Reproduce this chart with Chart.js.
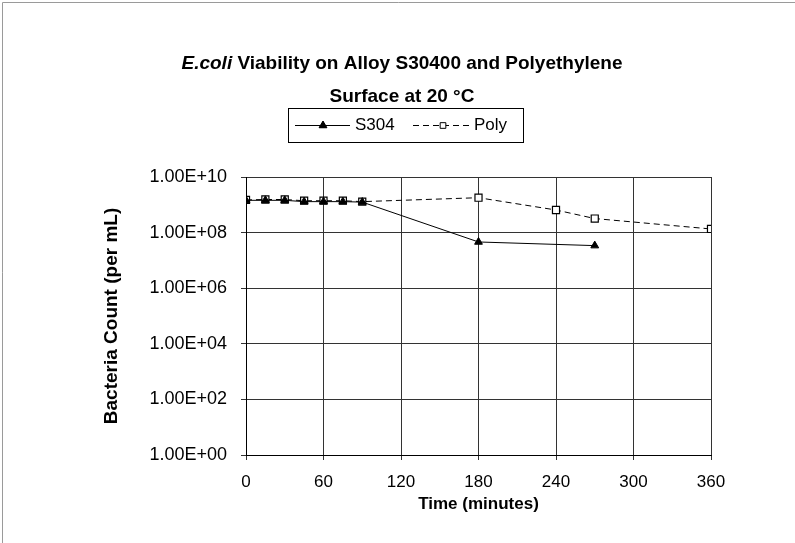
<!DOCTYPE html>
<html><head><meta charset="utf-8">
<script src="https://cdn.jsdelivr.net/npm/chart.js@4"></script>
<style>html,body{margin:0;padding:0;background:#fff}#wrap{width:795px;height:543px;position:relative}</style>
</head><body><div id="wrap"><canvas id="c" width="795" height="543"></canvas></div>
<script>
const titleItalic = 'E.coli';
const titleRest = ' Viability on Alloy S30400 and Polyethylene';
const titleLine2 = 'Surface at 20 \u00B0C';
const seriesNames = ['S304', 'Poly'];
const timesS304 = [0, 15, 30, 45, 60, 75, 90, 180, 270];
const valuesS304 = [1.45e9, 1.45e9, 1.45e9, 1.3e9, 1.3e9, 1.3e9, 1.25e9, 4.6e7, 3.4e7];
const timesPoly = [0, 15, 30, 45, 60, 75, 90, 180, 240, 270, 360];
const valuesPoly = [1.5e9, 1.55e9, 1.55e9, 1.4e9, 1.4e9, 1.4e9, 1.3e9, 1.8e9, 6.5e8, 3.2e8, 1.35e8];
const xTickValues = [0, 60, 120, 180, 240, 300, 360];
const yTickValues = [1, 1e2, 1e4, 1e6, 1e8, 1e10];
const yTickLabels = ['1.00E+00', '1.00E+02', '1.00E+04', '1.00E+06', '1.00E+08', '1.00E+10'];
const xTitle = 'Time (minutes)';
const yTitle = 'Bacteria Count (per mL)';

const toPts = (xs, ys) => xs.map((x, i) => ({x: x, y: ys[i]}));

const decor = {
  id: 'decor',
  afterDraw(chart) {
    const ctx = chart.ctx;
    ctx.save();
    // outer border (left and top)
    ctx.strokeStyle = '#9a9a9a';
    ctx.lineWidth = 1;
    ctx.beginPath();
    ctx.moveTo(2.5, 543); ctx.lineTo(2.5, 2.5); ctx.lineTo(795, 2.5);
    ctx.stroke();
    // title
    ctx.fillStyle = '#000';
    ctx.textBaseline = 'middle';
    const fI = 'italic bold 19px "Liberation Sans", Arial, sans-serif';
    const fB = 'bold 19px "Liberation Sans", Arial, sans-serif';
    ctx.font = fI; const wI = ctx.measureText(titleItalic).width;
    ctx.font = fB; const wR = ctx.measureText(titleRest).width;
    const cx = 402;
    let x0 = cx - (wI + wR) / 2;
    ctx.textAlign = 'left';
    ctx.font = fI; ctx.fillText(titleItalic, x0, 64);
    ctx.font = fB; ctx.fillText(titleRest, x0 + wI, 64);
    ctx.textAlign = 'center';
    ctx.fillText(titleLine2, cx, 97);
    // legend
    const ly = 125.5;
    ctx.strokeStyle = '#000';
    ctx.lineWidth = 1;
    ctx.strokeRect(288.5, 108.5, 235, 34);
    const ds = chart.data.datasets;
    // S304 sample
    ctx.setLineDash([]);
    ctx.beginPath(); ctx.moveTo(295, ly); ctx.lineTo(350, ly); ctx.stroke();
    Chart.helpers.drawPoint(ctx, {pointStyle: ds[0].pointStyle, radius: ds[0].pointRadius, borderWidth: 1, rotation: 0}, 323, ly);
    ctx.fillStyle = '#000'; ctx.fill();
    // Poly sample
    ctx.setLineDash([6, 4]);
    ctx.beginPath(); ctx.moveTo(413, ly); ctx.lineTo(471, ly); ctx.stroke();
    ctx.setLineDash([]);
    ctx.fillStyle = '#fff';
    Chart.helpers.drawPoint(ctx, {pointStyle: ds[1].pointStyle, radius: 4, borderWidth: 1, rotation: 0}, 443, ly);
    ctx.fillStyle = '#000';
    ctx.font = '17px "Liberation Sans", Arial, sans-serif';
    ctx.textAlign = 'left';
    ctx.fillText(seriesNames[0], 355, ly);
    ctx.fillText(seriesNames[1], 474, ly);
    ctx.restore();
  }
};

new Chart(document.getElementById('c'), {
  type: 'line',
  data: {
    datasets: [
      {
        label: seriesNames[0],
        data: toPts(timesS304, valuesS304),
        borderColor: '#000', backgroundColor: '#000',
        borderWidth: 1, pointStyle: 'triangle', pointRadius: 4.5,
        pointBackgroundColor: '#000', pointBorderColor: '#000', tension: 0
      },
      {
        label: seriesNames[1],
        data: toPts(timesPoly, valuesPoly),
        borderColor: '#000', backgroundColor: '#fff',
        borderWidth: 1, borderDash: [6, 4], pointStyle: 'rect', pointRadius: 5,
        pointBackgroundColor: '#fff', pointBorderColor: '#000', pointBorderWidth: 1.2, tension: 0
      }
    ]
  },
  options: {
    responsive: false, devicePixelRatio: 1, animation: false,
    layout: {padding: {top: 177, right: 84, left: 0, bottom: 0}},
    plugins: {legend: {display: false}, title: {display: false}, tooltip: {enabled: false}},
    scales: {
      x: {
        type: 'linear', min: 0, max: 360,
        afterBuildTicks: s => { s.ticks = xTickValues.map(v => ({value: v})); },
        afterFit: s => { s.height = 88; },
        grid: {color: '#333', lineWidth: 1, tickLength: 5, drawTicks: true},
        border: {color: '#000'},
        ticks: {color: '#000', padding: 12, font: {family: '"Liberation Sans", Arial, sans-serif', size: 17}, maxRotation: 0},
        title: {display: true, text: xTitle, color: '#000', padding: {top: 0, bottom: 28},
          font: {family: '"Liberation Sans", Arial, sans-serif', size: 17, weight: 'bold'}}
      },
      y: {
        type: 'logarithmic', min: 1, max: 1e10,
        afterBuildTicks: s => { s.ticks = yTickValues.map(v => ({value: v})); },
        afterFit: s => { s.width = 246; },
        grid: {color: '#333', lineWidth: 1, tickLength: 5, drawTicks: true},
        border: {color: '#000'},
        ticks: {color: '#000', padding: 14, font: {family: '"Liberation Sans", Arial, sans-serif', size: 18},
          callback: (v) => { const i = yTickValues.indexOf(v); return i >= 0 ? yTickLabels[i] : ''; }},
        title: {display: true, text: yTitle, color: '#000', padding: {top: 100, bottom: 0},
          font: {family: '"Liberation Sans", Arial, sans-serif', size: 19, weight: 'bold'}}
      }
    }
  },
  plugins: [decor]
});
</script>
</body></html>
